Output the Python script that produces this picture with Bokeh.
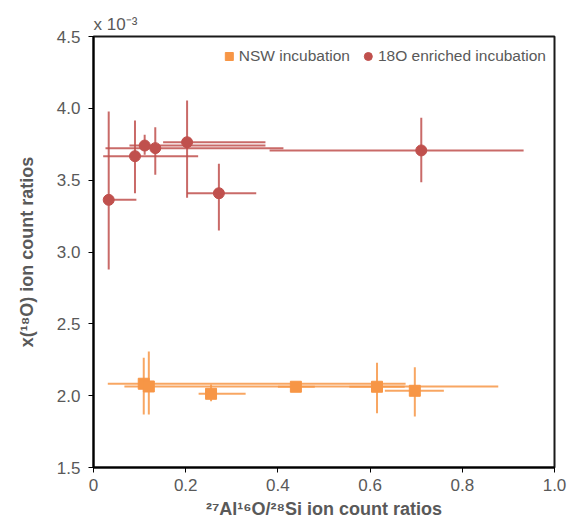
from bokeh.plotting import figure
from bokeh.models import ColumnDataSource, FixedTicker, Range1d
from bokeh.embed import file_html
from bokeh.resources import INLINE

# ---- data (y in units of 1e-3) ----
nsw_x = [0.109, 0.120, 0.255, 0.439, 0.615, 0.697]
nsw_y = [2.083, 2.064, 2.013, 2.062, 2.062, 2.034]
nsw_xlo = [0.031, 0.067, 0.228, 0.400, 0.555, 0.632]
nsw_xhi = [0.677, 0.878, 0.330, 0.480, 0.675, 0.760]
nsw_ylo = [1.869, 1.869, 1.962, 2.050, 1.878, 1.855]
nsw_yhi = [2.264, 2.307, 2.078, 2.074, 2.229, 2.198]

enr_x = [0.033, 0.090, 0.111, 0.134, 0.203, 0.272, 0.711]
enr_y = [3.363, 3.667, 3.741, 3.723, 3.764, 3.409, 3.707]
enr_xlo = [0.025, 0.021, 0.078, 0.026, 0.151, 0.203, 0.382]
enr_xhi = [0.093, 0.227, 0.373, 0.412, 0.373, 0.353, 0.933]
enr_ylo = [2.878, 3.409, 3.677, 3.537, 3.377, 3.150, 3.486]
enr_yhi = [3.978, 3.915, 3.816, 3.869, 4.055, 3.614, 3.934]

x_ticks = [0, 0.2, 0.4, 0.6, 0.8, 1.0]
x_tick_labels = ["0", "0.2", "0.4", "0.6", "0.8", "1.0"]
y_ticks = [1.5, 2.0, 2.5, 3.0, 3.5, 4.0, 4.5]
y_tick_labels = ["1.5", "2.0", "2.5", "3.0", "3.5", "4.0", "4.5"]

ORANGE = "#F79646"
RED = "#C0504D"
GRAY = "#595959"
FONT = "Liberation Sans"

p = figure(width=568, height=522, output_backend="svg", toolbar_location=None,
           x_range=Range1d(0, 1.0), y_range=Range1d(1.5, 4.5),
           min_border_left=93, min_border_right=14, min_border_top=36, min_border_bottom=55)

p.xgrid.visible = False
p.ygrid.visible = False
p.outline_line_color = "#1a1a1a"
p.outline_line_width = 2
p.background_fill_color = "white"

ns = ColumnDataSource(dict(x=nsw_x, y=nsw_y, xlo=nsw_xlo, xhi=nsw_xhi, ylo=nsw_ylo, yhi=nsw_yhi))
es = ColumnDataSource(dict(x=enr_x, y=enr_y, xlo=enr_xlo, xhi=enr_xhi, ylo=enr_ylo, yhi=enr_yhi))

for src, col in ((es, RED), (ns, ORANGE)):
    p.segment(x0="xlo", x1="xhi", y0="y", y1="y", source=src, line_color=col, line_width=2, line_alpha=0.85)
    p.segment(x0="x", x1="x", y0="ylo", y1="yhi", source=src, line_color=col, line_width=2, line_alpha=0.85)

p.scatter("x", "y", source=ns, marker="square", size=11, fill_color=ORANGE, line_color=ORANGE,
          legend_label="NSW incubation")
p.scatter("x", "y", source=es, marker="circle", size=11, fill_color=RED, line_color=RED,
          legend_label="18O enriched incubation")

# title used as the axis multiplier note
p.title.text = "x 10⁻³"
p.title.align = "left"
p.title.text_font = FONT
p.title.text_font_size = "17px"
p.title.text_font_style = "normal"
p.title.text_color = GRAY
p.title.standoff = 5

# axes
p.xaxis.ticker = FixedTicker(ticks=x_ticks)
p.xaxis.major_label_overrides = {t: l for t, l in zip(x_ticks, x_tick_labels)}
p.yaxis.ticker = FixedTicker(ticks=y_ticks)
p.yaxis.major_label_overrides = {t: l for t, l in zip(y_ticks, y_tick_labels)}

for ax in (p.xaxis, p.yaxis):
    ax.axis_line_color = "black"
    ax.axis_line_width = 2
    ax.major_tick_line_color = "black"
    ax.major_tick_line_width = 1
    ax.major_tick_out = 5
    ax.major_tick_in = 0
    ax.minor_tick_line_color = None
    ax.major_label_text_font = FONT
    ax.major_label_text_font_size = "17px"
    ax.major_label_text_color = GRAY
    ax.axis_label_text_font = FONT
    ax.axis_label_text_font_style = "bold"
    ax.axis_label_text_font_size = "18px"
    ax.axis_label_text_color = GRAY

p.xaxis.axis_label = "²⁷Al¹⁶O/²⁸Si ion count ratios"
p.yaxis.axis_label = "x(¹⁸O) ion count ratios"
p.xaxis.major_label_standoff = 6
p.xaxis.axis_label_standoff = 5
p.yaxis.major_label_standoff = 8
p.yaxis.axis_label_standoff = 17

lg = p.legend[0]
lg.location = "top_right"
lg.orientation = "horizontal"
lg.border_line_color = None
lg.background_fill_alpha = 0
lg.label_text_font = FONT
lg.label_text_font_size = "15.5px"
lg.label_text_color = GRAY
lg.glyph_width = 20
lg.glyph_height = 24
lg.label_standoff = 0
lg.spacing = 8
lg.margin = 8
lg.padding = 3

open("out.html", "w").write(file_html(p, INLINE))
